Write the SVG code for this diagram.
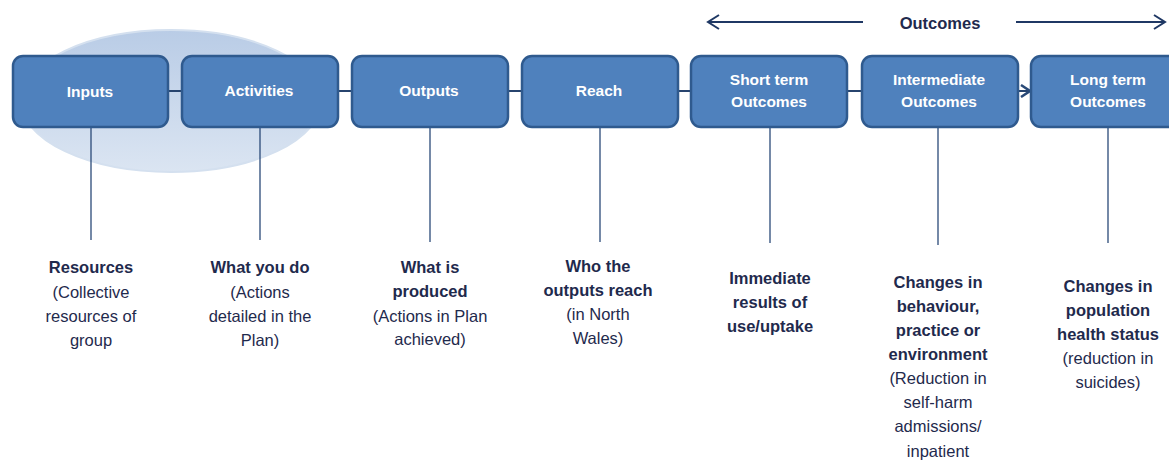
<svg xmlns="http://www.w3.org/2000/svg" width="1169" height="469" viewBox="0 0 1169 469">
<defs>
<linearGradient id="ell" x1="0" y1="0" x2="0" y2="1">
<stop offset="0" stop-color="#b9cce6"/>
<stop offset="1" stop-color="#dbe5f2"/>
</linearGradient>
<marker id="chev" markerWidth="14" markerHeight="16" refX="12" refY="8" orient="auto" markerUnits="userSpaceOnUse">
<path d="M1,1 L12,8 L1,15" fill="none" stroke="#1f3864" stroke-width="2"/>
</marker>
<marker id="chev2" markerWidth="12" markerHeight="14" refX="10" refY="7" orient="auto" markerUnits="userSpaceOnUse">
<path d="M1,1 L10,7 L1,13" fill="none" stroke="#2a4a78" stroke-width="2.5"/>
</marker>
</defs>
<style>
.box{fill:#4f81bd;stroke:#2f5a8e;stroke-width:2.5}
.bt{font-family:"Liberation Sans",Arial,sans-serif;font-size:15.5px;font-weight:bold;fill:#ffffff;text-anchor:middle}
.conn{stroke:#27446e;stroke-width:2;fill:none}
.vl{stroke:#2a4a78;stroke-width:1.3;fill:none}
.lb{font-family:"Liberation Sans",Arial,sans-serif;font-size:16.5px;fill:#1f2a4d;text-anchor:middle}
.b{font-weight:bold}
.arr{stroke:#1f3864;stroke-width:2;fill:none}
</style>
<rect width="1169" height="469" fill="#ffffff"/>
<g id="grouping">
<ellipse cx="171" cy="101" rx="150" ry="71" fill="url(#ell)" stroke="#d4e0ef" stroke-width="2"/>
</g>
<g id="outcomes-header">
<line class="arr" x1="863" y1="22" x2="708" y2="22" marker-end="url(#chev)"/>
<line class="arr" x1="1016" y1="22" x2="1165" y2="22" marker-end="url(#chev)"/>
<text class="lb b" x="940" y="29">Outcomes</text>
</g>
<g id="connectors">
<line class="conn" x1="168" y1="91" x2="181" y2="91"/>
<line class="conn" x1="338" y1="91" x2="351" y2="91"/>
<line class="conn" x1="508" y1="91" x2="521" y2="91"/>
<line class="conn" x1="678" y1="91" x2="690" y2="91"/>
<line class="conn" x1="847" y1="91" x2="861" y2="91"/>
<line class="conn" x1="1018" y1="91" x2="1030" y2="91" marker-end="url(#chev2)"/>
<line class="vl" x1="91" y1="128" x2="91" y2="240"/>
<line class="vl" x1="260" y1="128" x2="260" y2="240"/>
<line class="vl" x1="430" y1="128" x2="430" y2="242"/>
<line class="vl" x1="600" y1="128" x2="600" y2="242"/>
<line class="vl" x1="770" y1="128" x2="770" y2="243"/>
<line class="vl" x1="938" y1="128" x2="938" y2="245"/>
<line class="vl" x1="1108" y1="128" x2="1108" y2="243"/>
</g>
<g id="inputs">
<rect class="box" x="13" y="56" width="155" height="71" rx="10"/>
<text class="bt" x="90" y="97">Inputs</text>
<text class="lb b" x="91" y="273">Resources</text>
<text class="lb" x="91" y="298">(Collective</text>
<text class="lb" x="91" y="322">resources of</text>
<text class="lb" x="91" y="346">group</text>
</g>
<g id="activities">
<rect class="box" x="182" y="56" width="156" height="71" rx="10"/>
<text class="bt" x="259" y="96">Activities</text>
<text class="lb b" x="260" y="273">What you do</text>
<text class="lb" x="260" y="298">(Actions</text>
<text class="lb" x="260" y="322">detailed in the</text>
<text class="lb" x="260" y="346">Plan)</text>
</g>
<g id="outputs">
<rect class="box" x="352" y="56" width="156" height="71" rx="10"/>
<text class="bt" x="429" y="96">Outputs</text>
<text class="lb b" x="430" y="273">What is</text>
<text class="lb b" x="430" y="297">produced</text>
<text class="lb" x="430" y="322">(Actions in Plan</text>
<text class="lb" x="430" y="345">achieved)</text>
</g>
<g id="reach">
<rect class="box" x="522" y="56" width="156" height="71" rx="10"/>
<text class="bt" x="599" y="96">Reach</text>
<text class="lb b" x="598" y="272">Who the</text>
<text class="lb b" x="598" y="296">outputs reach</text>
<text class="lb" x="598" y="320">(in North</text>
<text class="lb" x="598" y="344">Wales)</text>
</g>
<g id="short-term">
<rect class="box" x="691" y="56" width="156" height="71" rx="10"/>
<text class="bt" x="769" y="85">Short term</text>
<text class="bt" x="769" y="107">Outcomes</text>
<text class="lb b" x="770" y="284">Immediate</text>
<text class="lb b" x="770" y="308">results of</text>
<text class="lb b" x="770" y="332">use/uptake</text>
</g>
<g id="intermediate">
<rect class="box" x="862" y="56" width="156" height="71" rx="10"/>
<text class="bt" x="939" y="85">Intermediate</text>
<text class="bt" x="939" y="107">Outcomes</text>
<text class="lb b" x="938" y="288">Changes in</text>
<text class="lb b" x="938" y="312">behaviour,</text>
<text class="lb b" x="938" y="336">practice or</text>
<text class="lb b" x="938" y="360">environment</text>
<text class="lb" x="938" y="384">(Reduction in</text>
<text class="lb" x="938" y="408">self-harm</text>
<text class="lb" x="938" y="432">admissions/</text>
<text class="lb" x="938" y="457">inpatient</text>
</g>
<g id="long-term">
<rect class="box" x="1031" y="56" width="156" height="71" rx="10"/>
<text class="bt" x="1108" y="85">Long term</text>
<text class="bt" x="1108" y="107">Outcomes</text>
<text class="lb b" x="1108" y="292">Changes in</text>
<text class="lb b" x="1108" y="316">population</text>
<text class="lb b" x="1108" y="340">health status</text>
<text class="lb" x="1108" y="364">(reduction in</text>
<text class="lb" x="1108" y="388">suicides)</text>
</g>
</svg>
